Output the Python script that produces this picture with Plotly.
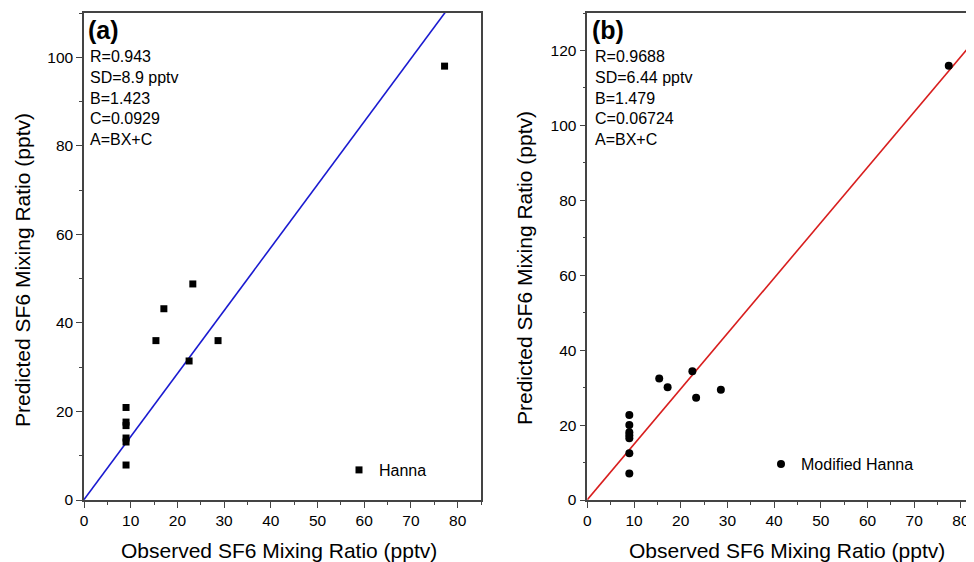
import plotly.graph_objects as go

# ---- data ----
hanna_obs = [9.0, 9.0, 9.0, 9.0, 9.0, 9.0, 15.4, 17.1, 23.3, 22.5, 28.7, 77.2]
hanna_pred = [20.9, 17.6, 16.8, 14.0, 13.1, 7.9, 36.0, 43.2, 48.8, 31.4, 36.0, 98.0]
mod_obs = [9.0, 9.0, 9.0, 9.0, 9.0, 9.0, 9.0, 15.4, 17.2, 22.5, 23.3, 28.6, 77.4]
mod_pred = [22.7, 20.0, 18.1, 17.3, 16.5, 12.5, 7.1, 32.4, 30.1, 34.4, 27.3, 29.4, 115.9]

fit_a = dict(R="0.943", SD="8.9 pptv", B=1.423, C=0.0929)
fit_b = dict(R="0.9688", SD="6.44 pptv", B=1.479, C=0.06724)
fit_x = [0, 90]

x_ticks = [0, 10, 20, 30, 40, 50, 60, 70, 80]

FONT = "Liberation Sans, Arial, sans-serif"
OFF = 8                      # page body margin
W, H = 974 - OFF, 562 - OFF  # figure size


def px(x):  # viewport x pixel -> paper fraction
    return (x - OFF) / W


def py(y):  # viewport y pixel -> paper fraction
    return 1 - (y - OFF) / H


fig = go.Figure()

fig.add_trace(go.Scatter(
    x=fit_x, y=[fit_a["B"] * v + fit_a["C"] for v in fit_x], mode="lines",
    line=dict(color="#1a1ad0", width=1.6), showlegend=False,
    xaxis="x", yaxis="y", hoverinfo="skip"))
fig.add_trace(go.Scatter(
    x=hanna_obs, y=hanna_pred, mode="markers", name="Hanna",
    marker=dict(symbol="square", size=7, color="black"),
    xaxis="x", yaxis="y", legend="legend"))

fig.add_trace(go.Scatter(
    x=fit_x, y=[fit_b["B"] * v + fit_b["C"] for v in fit_x], mode="lines",
    line=dict(color="#d81e1e", width=1.6), showlegend=False,
    xaxis="x2", yaxis="y2", hoverinfo="skip"))
fig.add_trace(go.Scatter(
    x=mod_obs, y=mod_pred, mode="markers", name="Modified Hanna",
    marker=dict(symbol="circle", size=8, color="black"),
    xaxis="x2", yaxis="y2", legend="legend2"))

# pixel geometry (viewport pixels)
ya_dom = [py(500), py(13)]
xa_dom = [px(84), px(481)]
xb_dom = [px(587.3), 1.0]

axis_common = dict(
    showgrid=False, zeroline=False, showline=True, linecolor="#444",
    linewidth=1.5, ticks="outside", ticklen=6, tickwidth=1.3, tickcolor="#444",
    tickfont=dict(family=FONT, size=15.5, color="black"), automargin=False,
)

fig.update_layout(
    width=W, height=H,
    margin=dict(l=0, r=0, t=0, b=0, pad=0, autoexpand=False),
    paper_bgcolor="white", plot_bgcolor="white",
    font=dict(family=FONT, color="black"),
    xaxis=dict(domain=xa_dom, range=[0, 85], tickvals=x_ticks, anchor="y",
               mirror=True, minor=dict(dtick=5, ticks="outside", ticklen=3,
                                       tickcolor="#444"), **axis_common),
    yaxis=dict(domain=ya_dom, range=[0, 110], dtick=20, anchor="x",
               mirror=True, minor=dict(dtick=10, ticks="outside", ticklen=3,
                                       tickcolor="#444"), **axis_common),
    xaxis2=dict(domain=xb_dom, range=[0, (974 - 587.3) / 4.67], tickvals=x_ticks,
                anchor="y2", mirror=True,
                minor=dict(dtick=5, ticks="outside", ticklen=3, tickcolor="#444"),
                **axis_common),
    yaxis2=dict(domain=ya_dom, range=[0, 130], dtick=20, anchor="x2",
                mirror=False,
                minor=dict(dtick=10, ticks="outside", ticklen=3, tickcolor="#444"),
                **axis_common),
    legend=dict(x=px(339), y=py(470), xanchor="left", yanchor="middle",
                bgcolor="rgba(0,0,0,0)", font=dict(family=FONT, size=16)),
    legend2=dict(x=px(761), y=py(464), xanchor="left", yanchor="middle",
                 bgcolor="rgba(0,0,0,0)", font=dict(family=FONT, size=16)),
    showlegend=True,
)


def stats_text(f):
    return "<br>".join([f"R={f['R']}", f"SD={f['SD']}", f"B={f['B']}",
                        f"C={f['C']}", "A=BX+C"])


ann = []
ann.append(dict(text="<b>(a)</b>", x=px(86), y=py(30), xref="paper",
                yref="paper", xanchor="left", yanchor="middle", showarrow=False,
                font=dict(family=FONT, size=25)))
ann.append(dict(text="<b>(b)</b>", x=px(590), y=py(30), xref="paper",
                yref="paper", xanchor="left", yanchor="middle", showarrow=False,
                font=dict(family=FONT, size=25)))
ann.append(dict(text=stats_text(fit_a), x=px(88), y=py(46), xref="paper",
                yref="paper", xanchor="left", yanchor="top", align="left",
                showarrow=False, font=dict(family=FONT, size=16)))
ann.append(dict(text=stats_text(fit_b), x=px(593), y=py(46), xref="paper",
                yref="paper", xanchor="left", yanchor="top", align="left",
                showarrow=False, font=dict(family=FONT, size=16)))
# axis titles
ann.append(dict(text="Observed SF6 Mixing Ratio (pptv)", x=px(279), y=py(550),
                xref="paper", yref="paper", xanchor="center", yanchor="middle",
                showarrow=False, font=dict(family=FONT, size=21)))
ann.append(dict(text="Observed SF6 Mixing Ratio (pptv)", x=px(787), y=py(550),
                xref="paper", yref="paper", xanchor="center", yanchor="middle",
                showarrow=False, font=dict(family=FONT, size=21)))
ann.append(dict(text="Predicted SF6 Mixing Ratio (pptv)", x=px(22), y=py(270),
                xref="paper", yref="paper", xanchor="center", yanchor="middle",
                textangle=-90, showarrow=False, font=dict(family=FONT, size=21)))
ann.append(dict(text="Predicted SF6 Mixing Ratio (pptv)", x=px(524), y=py(268),
                xref="paper", yref="paper", xanchor="center", yanchor="middle",
                textangle=-90, showarrow=False, font=dict(family=FONT, size=21)))
fig.update_layout(annotations=ann)

fig.write_html("out.html")
